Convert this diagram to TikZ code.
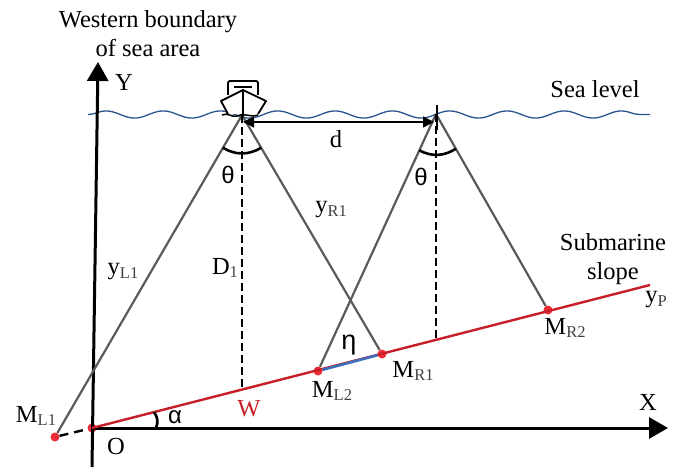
\documentclass[tikz,border=0pt]{standalone}
\usepackage{fontspec}
\setmainfont{Liberation Serif}
\newfontfamily\greekfont{Liberation Sans}
\usetikzlibrary{arrows.meta,calc,decorations.pathmorphing}
\definecolor{redline}{RGB}{200,30,40}
\definecolor{reddot}{RGB}{235,45,55}
\definecolor{seablue}{RGB}{40,85,140}
\definecolor{segblue}{RGB}{60,110,190}
\definecolor{beamgray}{RGB}{90,90,90}
\newcommand{\lowsub}[1]{\raisebox{-3.5pt}{\fontsize{16.5}{16.5}\selectfont\color{black!75} #1}}

\begin{document}
\begin{tikzpicture}[x=1pt, y=-1pt, line join=round,
		lab/.style={font=\fontsize{24.5}{29}\selectfont, inner sep=0pt},
		glab/.style={font=\fontsize{24}{24}\selectfont\greekfont, inner sep=0pt},
		axis/.style={line width=3pt, -{Triangle[length=19pt,width=21pt]}},
		beam/.style={beamgray, line width=2.2pt},
		depth/.style={line width=1.3pt, dash pattern=on 8pt off 4pt},
		pt/.style={circle, fill=reddot, minimum size=9pt, inner sep=0pt},
		ang/.style={line width=2.6pt}]
	\useasboundingbox (0,0) rectangle (685,473);

	% points
	\coordinate (S1) at (242,115);
	\coordinate (S2) at (436,114);
	\coordinate (F1) at (242,390);
	\coordinate (F2) at (436,340);
	\coordinate (YB) at (92,467);
	\coordinate (YT) at (98,62);
	\coordinate (XE) at (668,428);
	\coordinate (SE) at (650,285);
	\node[pt] (O) at (92,428) {};
	\node[pt] (ML1) at (55,437) {};
	\node[pt] (ML2) at (318,371) {};
	\node[pt] (MR1) at (382,354) {};
	\node[pt] (MR2) at (548,310) {};

	% sea level
	\coordinate (SL) at (88,114.5);
	\coordinate (SR) at (650,114.5);
	\draw[seablue, line width=1.3pt, decorate, decoration={snake, segment length=57.3pt, amplitude=3.6pt}] (SL) -- (SR);

	% axes
	\draw[axis] (YB) -- (YT);
	\draw[axis] (O.center) -- (XE);

	% seabed
	\draw[redline, line width=2.4pt] (O.center) -- (SE);
	\draw[segblue, line width=2.6pt] (ML2) -- (MR1);
	\draw[line width=2.4pt, dash pattern=on 9pt off 6pt] (ML1) -- (O);

	% beams
	\draw[beam] (S1) -- (ML1);
	\draw[beam] (S1) -- (MR1);
	\draw[beam] (S2) -- (ML2);
	\draw[beam] (S2) -- (MR2);
	\draw[depth] (S1) -- (F1);
	\draw[depth] (S2) -- (F2);
	\draw[line width=2.5pt] (437,105) -- (437,130);
	\draw[line width=1.4pt, {Triangle[length=11pt,width=11pt]}-{Triangle[length=11pt,width=11pt]}] (243,122) -- (434,122);

	% beam angles
	\draw[ang] ($(S1)!38pt!(ML1)$) to[bend right=30] ($(S1)!38pt!(MR1)$);
	\draw[ang] ($(S2)!40pt!(ML2)$) to[bend right=30] ($(S2)!40pt!(MR2)$);
	\draw[ang] ($(O)!64pt!(SE)$) to[bend left=30] ($(O)!64pt!(XE)$);

	% ship
	\draw[line width=1.8pt, rounded corners=2pt] (228,95) -- (228,81) -- (258,81) -- (258,95);
	\draw[line width=1.8pt] (234,87) -- (252,87);
	\draw[line width=1.8pt, fill=white] (228,114) -- (221,101) -- (243,90) -- (266,101) -- (258,114);
	\draw[line width=1.8pt] (243,90) -- (243,117);
	\draw[line width=1.5pt] (222,115) .. controls (228,112) and (232,118) .. (237,116) .. controls (243,112) and (250,118) .. (258,115);

	% labels
	\node[lab, align=center] (west) at (148,34) {Western boundary\\of sea area};
	\node[lab] (ylab) at (124,82) {Y};
	\node[lab] (sea) at (595,89) {Sea level};
	\node[lab] (dlab) at (336,139) {d};
	\node[glab] (th1) at (228,175) {θ};
	\node[glab] (th2) at (421,177) {θ};
	\node[lab] (yl1) at (123,272) {y\lowsub{L1}};
	\node[lab] (yr1) at (331,210) {y\lowsub{R1}};
	\node[lab] (d1) at (225,268) {D\lowsub{1}};
	\node[lab, align=center] (slope) at (613,259) {Submarine\\slope};
	\node[lab] (yp) at (656,300) {y\lowsub{P}};
	\node[lab] (mr2) at (565,328) {M\lowsub{R2}};
	\node[lab] (mr1) at (413,371) {M\lowsub{R1}};
	\node[lab] (ml2) at (332,391) {M\lowsub{L2}};
	\node[lab] (ml1) at (36,416) {M\lowsub{L1}};
	\node[glab, font=\fontsize{27}{27}\selectfont\greekfont] (eta) at (349,345) {η};
	\node[lab, text=redline] (w) at (249,409) {W};
	\node[lab] (olab) at (116,447) {O};
	\node[glab] (alpha) at (175,417) {α};
	\node[lab] (xlab) at (648,402) {X};
\end{tikzpicture}
\end{document}
